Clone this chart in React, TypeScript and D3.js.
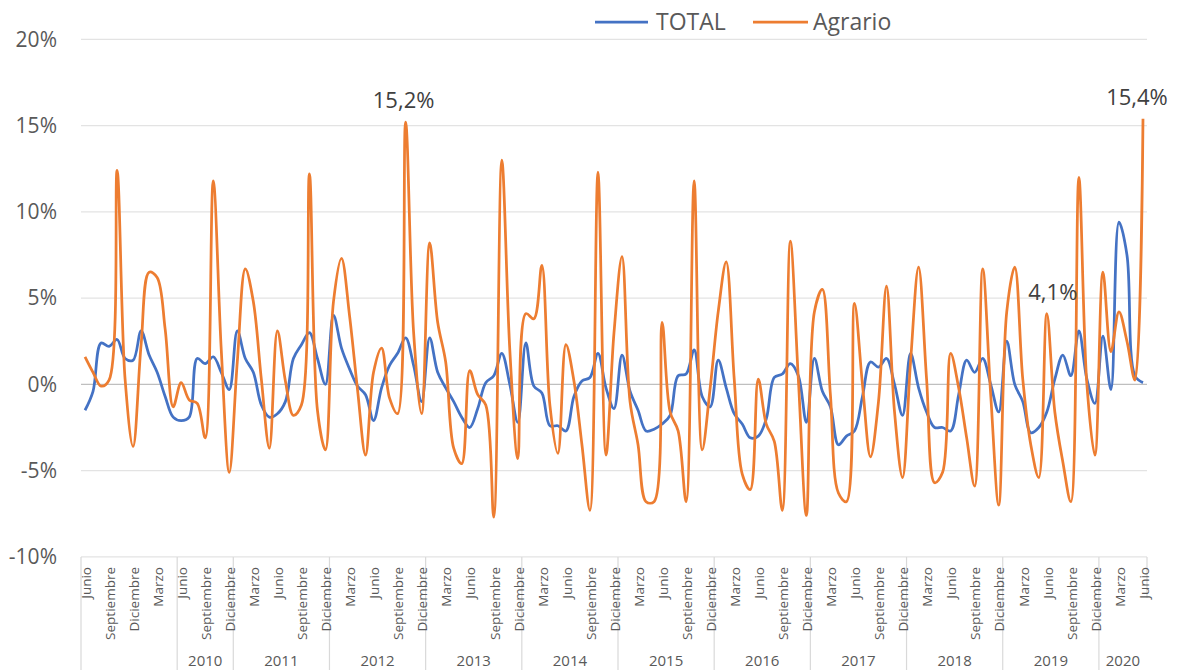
import * as d3 from "d3";

const MONTHS = ["Enero", "Febrero", "Marzo", "Abril", "Mayo", "Junio", "Julio", "Agosto", "Septiembre", "Octubre", "Noviembre", "Diciembre"];
const FIRST_MONTH = 5; // junio 2009
const YEAR_LABELS = ["", "2010", "2011", "2012", "2013", "2014", "2015", "2016", "2017", "2018", "2019", "2020"];
const YEAR_SIZES = [12, 7, 12, 12, 12, 12, 12, 12, 12, 12, 12, 6];

const TOTAL = [
  -1.5, -0.4, 2.4, 2.2, 2.6, 1.5, 1.4, 3.1, 1.7, 0.7, -0.7, -1.9,
  -2.1, -1.9, 1.5, 1.2, 1.6, 0.7, -0.3, 3.1, 1.5, 0.7, -1.2, -1.9,
  -1.7, -1.0, 1.5, 2.3, 3.0, 1.5, 0.0, 4.0, 2.1, 0.9, -0.1, -0.6,
  -2.1, -0.2, 1.1, 1.8, 2.7, 1.1, -1.0, 2.7, 0.7, -0.2, -1.0, -1.9,
  -2.5, -1.4, 0.1, 0.5, 1.8, 0.0, -2.2, 2.4, -0.1, -0.5, -2.4, -2.4,
  -2.7, -0.7, 0.2, 0.4, 1.8, -0.2, -1.4, 1.7, -0.4, -1.5, -2.7, -2.6,
  -2.3, -1.8, 0.5, 0.6, 2.0, -0.7, -1.3, 1.4, -0.2, -1.7, -2.3, -3.1,
  -3.0, -2.0, 0.4, 0.6, 1.2, 0.5, -2.2, 1.5, -0.4, -1.3, -3.5, -3.0,
  -2.7, -0.7, 1.3, 1.0, 1.5, 0.0, -1.8, 1.8, -0.2, -1.6, -2.5, -2.5,
  -2.7, -0.6, 1.4, 0.7, 1.5, 0.0, -1.6, 2.5, 0.0, -1.0, -2.8, -2.5,
  -1.6, 0.3, 1.7, 0.5, 3.1, 0.3, -1.1, 2.8, -0.3, 9.4, 7.5, 0.5,
  0.1,
];

const AGRARIO = [
  1.6, 0.7, -0.1, 0.25, 12.4, 0.3, -3.6, 2.3, 6.5, 6.2, 3.2, -1.3,
  0.1, -0.9, -1.1, -3.1, 11.8, 2.0, -5.1, 1.3, 6.7, 4.8, 0.3, -3.7,
  3.1, 0.2, -1.8, -1.2, 12.2, -1.5, -3.8, 4.8, 7.3, 4.0, -0.3, -4.1,
  0.7, 2.1, -0.8, -1.7, 15.2, 3.0, -1.7, 8.2, 3.6, 1.3, -3.7, -4.6,
  0.8, -0.6, -1.2, -7.7, 13.0, 2.0, -4.3, 4.1, 3.8, 6.9, -1.2, -4.0,
  2.3, 0.2, -3.5, -7.3, 12.3, -4.1, 3.0, 7.4, -1.0, -3.5, -6.8, -6.8,
  3.6, -1.6, -2.7, -6.8, 11.8, -3.8, -0.2, 4.2, 7.1, 0.3, -5.2, -6.1,
  0.3, -2.3, -3.3, -7.3, 8.3, 0.3, -7.6, 4.2, 5.5, -0.6, -6.3, -6.8,
  4.7, 0.0, -4.2, -1.0, 5.7, -1.6, -5.4, 1.3, 6.8, 0.3, -5.7, -5.1,
  1.8, -0.2, -3.1, -5.9, 6.7, -0.6, -7.0, 4.2, 6.8, 0.3, -3.5, -5.4,
  4.1, -1.6, -4.5, -6.8, 12.0, 0.0, -4.1, 6.5, 1.9, 4.2, 2.5, 0.25,
  15.4,
];

// puntos con etiqueta de dato
const LABELLED = [40, 120, 132];
const LABEL_DX: Record<number, number> = { 40: -2, 120: 6, 132: -6 };

const Y_TICKS = [-10, -5, 0, 5, 10, 15, 20];

const W = 1178;
const H = 670;
const PLOT = { left: 81, right: 1147, top: 39.3, bottom: 556.9 };
const FONT = "'Open Sans', 'Noto Sans', sans-serif";
const BLUE = "#4472C4";
const ORANGE = "#ED7D31";

export default function App() {
  const idx = TOTAL.map((_, i) => i);
  const x = d3.scaleBand<number>().domain(idx).range([PLOT.left, PLOT.right]);
  const cx = (i: number) => (x(i) ?? 0) + x.bandwidth() / 2;
  const y = d3.scaleLinear().domain([-10, 20]).range([PLOT.bottom, PLOT.top]);

  const line = d3
    .line<number>()
    .x((_, i) => cx(i))
    .y((d) => y(d))
    .curve(d3.curveCatmullRom.alpha(0.5));

  // límites de los grupos de años
  const bounds: number[] = [0];
  YEAR_SIZES.forEach((n) => bounds.push(bounds[bounds.length - 1] + n));
  const edge = (k: number) => (k >= idx.length ? PLOT.right : x(k) ?? 0);

  const fmt = (v: number) => v.toFixed(1).replace(".", ",") + "%";

  return (
    <svg width={W} height={H} style={{ position: "absolute", left: 0, top: 0, background: "#fff" }} fontFamily={FONT}>
      {/* grid */}
      {Y_TICKS.map((t) => (
        <g key={t}>
          <line
            x1={PLOT.left}
            x2={PLOT.right}
            y1={y(t)}
            y2={y(t)}
            stroke={t === 0 ? "#bfbfbf" : "#e3e3e3"}
            strokeWidth={t === 0 ? 1.3 : 1.2}
          />
          <text x={57} y={y(t)} dy="0.35em" textAnchor="end" fontSize={21} fill="#595959">
            {t}%
          </text>
        </g>
      ))}

      {/* eje de categorías */}
      {bounds.map((b, k) => (
        <line
          key={"b" + k}
          x1={edge(b)}
          x2={edge(b)}
          y1={PLOT.bottom}
          y2={k === bounds.length - 1 ? 598 : H}
          stroke="#d9d9d9"
          strokeWidth={1.2}
        />
      ))}
      {idx
        .filter((i) => i % 3 === 0)
        .map((i) => (
          <text
            key={"m" + i}
            transform={`translate(${cx(i) + 1},567) rotate(-90)`}
            textAnchor="end"
            dy="0.35em"
            fontSize={13.5}
            fill="#595959"
          >
            {MONTHS[(FIRST_MONTH + i) % 12]}
          </text>
        ))}
      {YEAR_LABELS.map((lab, k) => (
        <text
          key={"y" + k}
          x={(edge(bounds[k]) + edge(bounds[k + 1])) / 2}
          y={661}
          dy="0.35em"
          textAnchor="middle"
          fontSize={15}
          fill="#595959"
        >
          {lab}
        </text>
      ))}

      {/* series */}
      <path d={line(TOTAL) ?? ""} fill="none" stroke={BLUE} strokeWidth={2.75} strokeLinejoin="round" />
      <path d={line(AGRARIO) ?? ""} fill="none" stroke={ORANGE} strokeWidth={2.75} strokeLinejoin="round" />

      {LABELLED.map((i) => (
        <text
          key={"l" + i}
          x={cx(i) + LABEL_DX[i]}
          y={y(AGRARIO[i]) - 14}
          textAnchor="middle"
          fontSize={22}
          fill="#404040"
        >
          {fmt(AGRARIO[i])}
        </text>
      ))}

      {/* leyenda */}
      <line x1={595} x2={648} y1={22} y2={22} stroke={BLUE} strokeWidth={2.75} />
      <text x={656} y={22} dy="0.35em" fontSize={23} fill="#595959">
        TOTAL
      </text>
      <line x1={753} x2={808} y1={22} y2={22} stroke={ORANGE} strokeWidth={2.75} />
      <text x={813} y={22} dy="0.35em" fontSize={23} fill="#595959">
        Agrario
      </text>
    </svg>
  );
}
